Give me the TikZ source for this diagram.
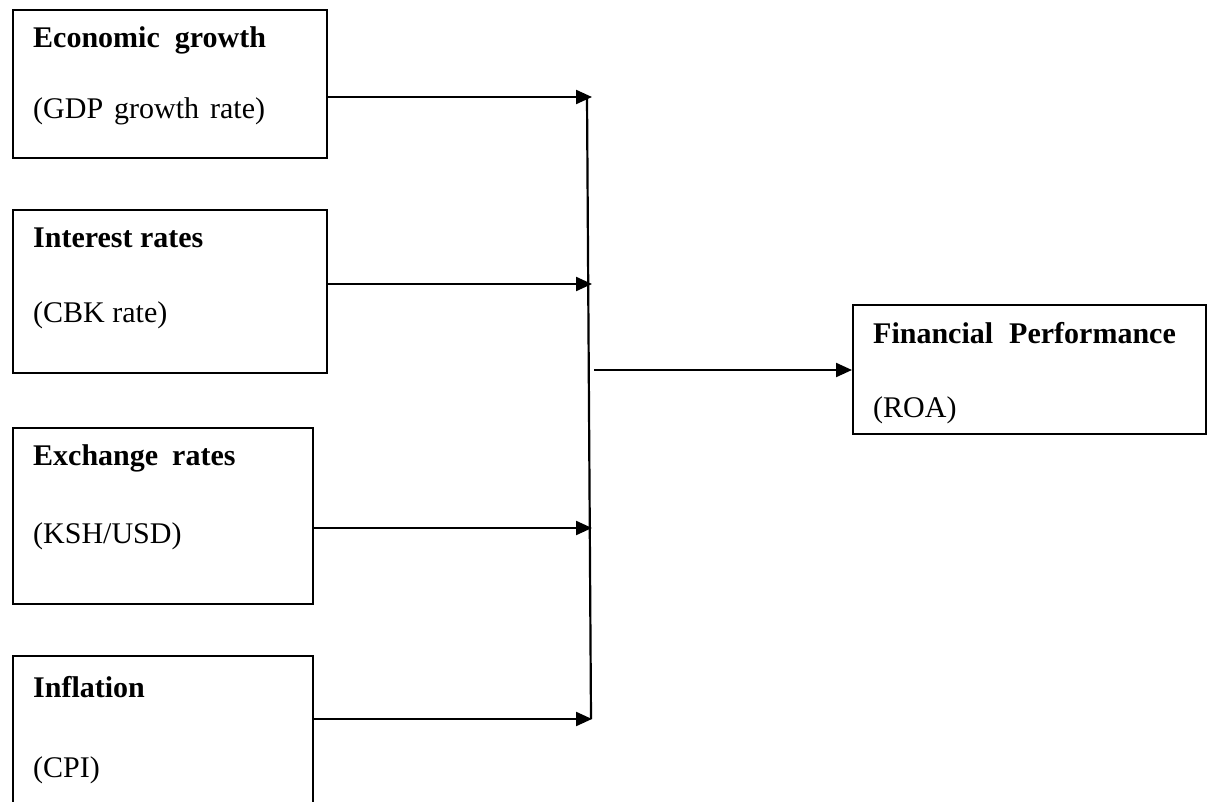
\documentclass[tikz,border=0pt]{standalone}
\usepackage{fontspec}
\setmainfont{Liberation Serif}
\usetikzlibrary{arrows.meta}
\begin{document}
\begin{tikzpicture}[x=1pt,y=-1pt,
  box/.style={draw,line width=2pt,inner sep=0pt,anchor=north west},
  lbl/.style={anchor=base west,inner sep=0pt,font=\fontsize{30}{36}\selectfont},
  ttl/.style={anchor=base west,inner sep=0pt,font=\fontsize{30}{36}\selectfont\bfseries},
  conn/.style={line width=2.2pt,-{Triangle[length=16pt,width=14pt]}},
  spine/.style={line width=2.2pt}]
\useasboundingbox (0,0) rectangle (1212,802);
% boxes
\node[box,minimum width=314pt,minimum height=148pt] (b1) at (12,9) {};
\node[box,minimum width=314pt,minimum height=163pt] (b2) at (12,209) {};
\node[box,minimum width=300pt,minimum height=176pt] (b3) at (12,427) {};
\node[box,minimum width=300pt,minimum height=175pt] (b4) at (12,655) {};
\node[box,minimum width=353pt,minimum height=129pt] (b5) at (852,304) {};
% texts
\node[ttl] (t1) at (33,48) {Economic\hspace{15pt}growth};
\node[lbl] (s1) at (33,119) {(GDP\hspace{11pt}growth\hspace{11pt}rate)};
\node[ttl] (t2) at (33,248) {Interest rates};
\node[lbl] (s2) at (33,322) {(CBK rate)};
\node[ttl] (t3) at (33,465) {Exchange\hspace{14pt}rates};
\node[lbl] (s3) at (33,543) {(KSH/USD)};
\node[ttl] (t4) at (33,697) {Inflation};
\node[lbl] (s4) at (33,777) {(CPI)};
\node[ttl] (t5) at (873,343) {Financial\hspace{16pt}Performance};
\node[lbl] (s5) at (873,417) {(ROA)};
% junctions
\coordinate (j1) at (592,97);
\coordinate (j2) at (592,284);
\coordinate (j3) at (592,528);
\coordinate (j4) at (592,719);
\coordinate (vt) at (587,97);
\coordinate (vb) at (591,719);
\coordinate (m) at (594,370);
\draw[spine] (vt) -- (vb);
\draw[conn] (b1.east |- j1) -- (j1);
\draw[conn] (b2.east |- j2) -- (j2);
\draw[conn] (b3.east |- j3) -- (j3);
\draw[conn] (b4.east |- j4) -- (j4);
\draw[conn] (m) -- (b5.west |- m);
\end{tikzpicture}
\end{document}
